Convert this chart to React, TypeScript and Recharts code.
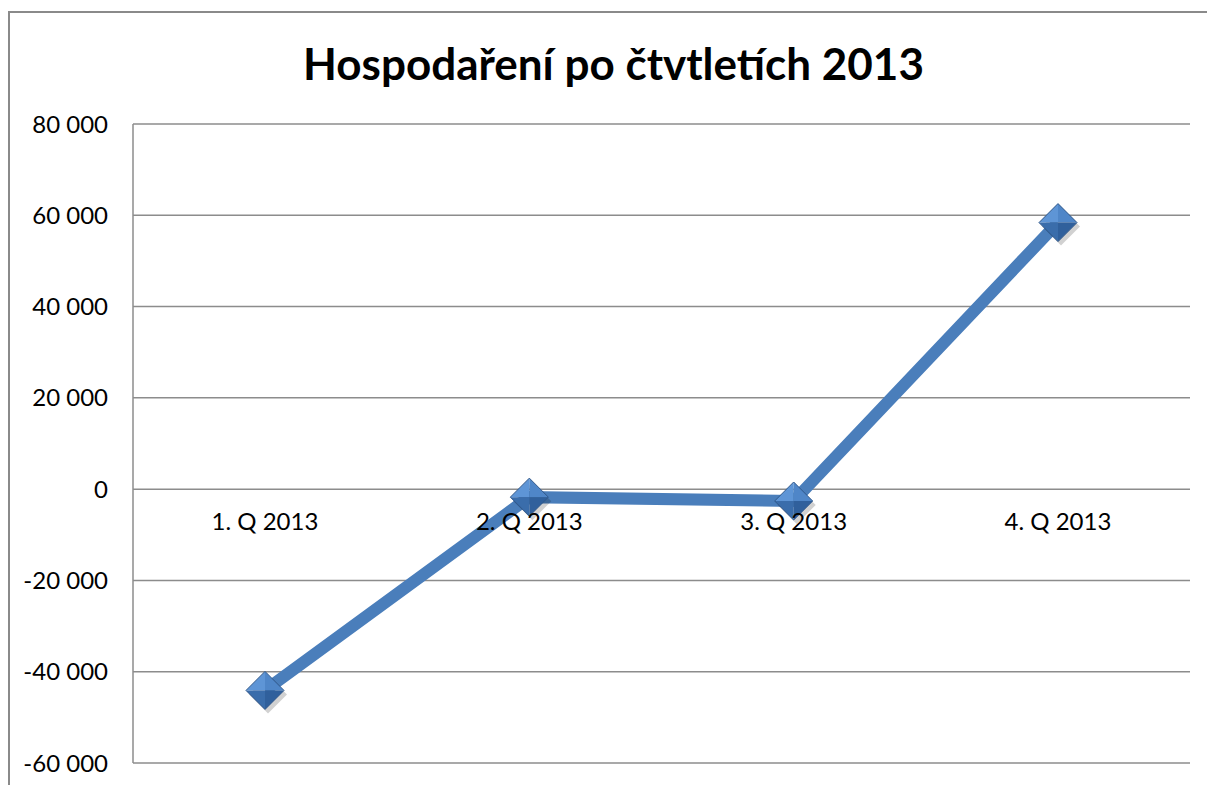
import { LineChart, Line, XAxis, YAxis, CartesianGrid, ReferenceDot } from 'recharts';

const quarters = ['1. Q 2013', '2. Q 2013', '3. Q 2013', '4. Q 2013'];
const result = [-44100, -1750, -2600, 58400];
const yTicks = [-60000, -40000, -20000, 0, 20000, 40000, 60000, 80000];

const data = quarters.map((q, i) => ({ q, value: result[i] }));

const FONT = 'Lato, "Open Sans", sans-serif';
const BLUE = '#4a7ebb';

function fmt(v: number) {
  const s = String(Math.abs(v)).replace(/\B(?=(\d{3})+(?!\d))/g, ' ');
  return v < 0 ? '-' + s : s;
}

// faceted diamond marker, like the old Excel bevel
function Diamond(props: { cx?: number; cy?: number; index?: number }) {
  const { cx, cy, index } = props;
  if (cx == null || cy == null) return null;
  const r = 19;
  const top = `${cx},${cy - r}`;
  const right = `${cx + r},${cy}`;
  const bottom = `${cx},${cy + r}`;
  const left = `${cx - r},${cy}`;
  const c = `${cx},${cy}`;
  return (
    <g key={`d-${index}`}>
      <polygon
        points={`${cx + 3},${cy - r + 4} ${cx + r + 3},${cy + 4} ${cx + 3},${cy + r + 4} ${cx - r + 3},${cy + 4}`}
        fill="#000"
        opacity={0.18}
      />
      <polygon points={`${left} ${top} ${c}`} fill="#5e95d6" />
      <polygon points={`${top} ${right} ${c}`} fill="#4f86c8" />
      <polygon points={`${right} ${bottom} ${c}`} fill="#30609c" />
      <polygon points={`${bottom} ${left} ${c}`} fill="#3a6dab" />
      <polygon
        points={`${top} ${right} ${bottom} ${left}`}
        fill="none"
        stroke="#2f578a"
        strokeWidth={1}
      />
    </g>
  );
}

export default function App() {
  return (
    <div style={{ position: 'absolute', left: 0, top: 0, width: 1207, height: 785, background: '#fff' }}>
      <div
        style={{
          position: 'absolute',
          left: 8,
          top: 11,
          width: 1199,
          height: 774,
          borderLeft: '2px solid #8a8a8a',
          borderTop: '2px solid #8a8a8a',
        }}
      />
      <div
        style={{
          position: 'absolute',
          left: 0,
          width: 1227,
          top: 37,
          textAlign: 'center',
          fontFamily: FONT,
          fontWeight: 700,
          fontSize: 44,
          color: '#000',
        }}
      >
        Hospodaření po čtvtletích 2013
      </div>
      <div style={{ position: 'absolute', left: 0, top: 0 }}>
        <LineChart
          width={1207}
          height={785}
          data={data}
          margin={{ top: 124, right: 17, bottom: 22, left: 0 }}
        >
          <CartesianGrid vertical={false} stroke="#8c8c8c" strokeWidth={1.5} />
          <XAxis
            dataKey="q"
            height={0}
            tick={false}
            axisLine={false}
            tickLine={false}
            padding={{ left: 132, right: 132 }}
          />
          <YAxis
            width={133}
            domain={[-60000, 80000]}
            ticks={yTicks}
            tickFormatter={fmt}
            tickLine={false}
            tickSize={6}
            tickMargin={19}
            axisLine={{ stroke: '#8c8c8c', strokeWidth: 1.5 }}
            tick={{ fill: '#000', fontSize: 24, fontFamily: FONT }}
            interval={0}
          />
          {quarters.map((q) => (
            <ReferenceDot
              key={q}
              x={q}
              y={0}
              r={0}
              stroke="none"
              label={{ value: q, position: 'bottom', offset: 24, fill: '#000', fontSize: 24, fontFamily: FONT }}
            />
          ))}
          <Line
            dataKey="value"
            stroke={BLUE}
            strokeWidth={12}
            dot={<Diamond />}
            activeDot={false}
            isAnimationActive={false}
          />
        </LineChart>
      </div>
    </div>
  );
}
